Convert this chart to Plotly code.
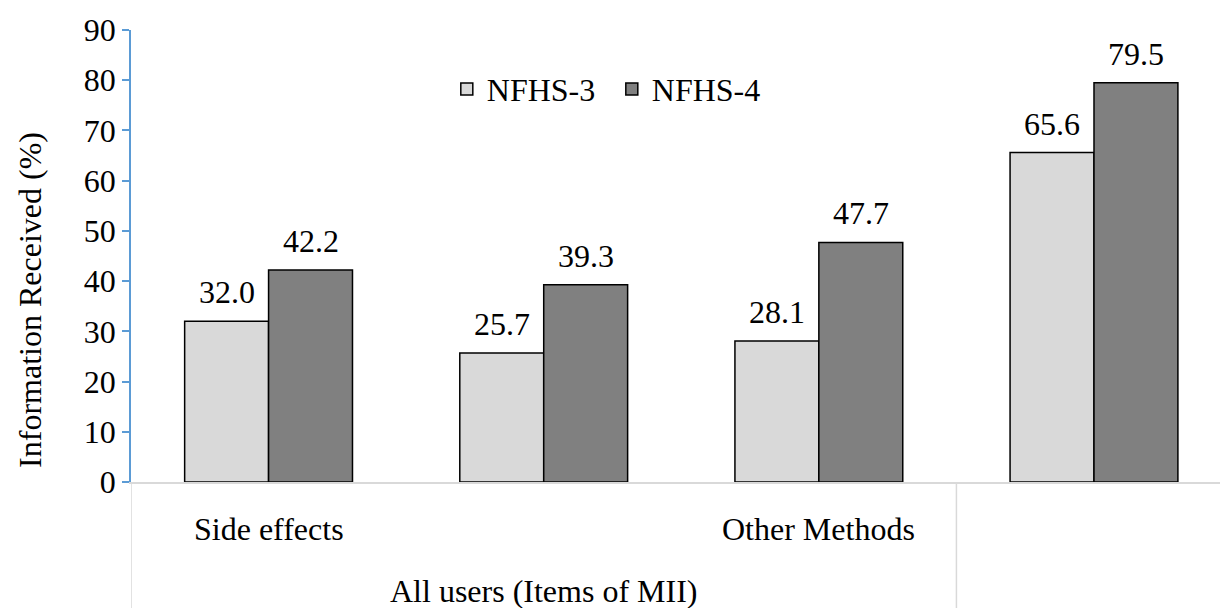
import plotly.graph_objects as go

categories = ["Side effects", "", "Other Methods", ""]
group_label = "All users (Items of MII)"
series_names = ["NFHS-3", "NFHS-4"]
nfhs3 = [32.0, 25.7, 28.1, 65.6]
nfhs4 = [42.2, 39.3, 47.7, 79.5]
y_ticks = [0, 10, 20, 30, 40, 50, 60, 70, 80, 90]
y_title = "Information Received (%)"

FONT = "Liberation Serif, Times New Roman, serif"
FS = 32
BARGAP = 0.39
x = list(range(len(categories)))
bar_w = (1 - BARGAP) / 2

fig = go.Figure()
fig.add_trace(go.Bar(x=x, y=nfhs3, name=series_names[0],
                     marker=dict(color="#D9D9D9", line=dict(color="black", width=1.5))))
fig.add_trace(go.Bar(x=x, y=nfhs4, name=series_names[1],
                     marker=dict(color="#808080", line=dict(color="black", width=1.5))))

annotations = []
for i in x:
    for vals, off in ((nfhs3, -bar_w / 2), (nfhs4, bar_w / 2)):
        annotations.append(dict(x=i + off, y=vals[i], xref="x", yref="y",
                                text=f"{vals[i]:.1f}", showarrow=False,
                                yanchor="bottom", yshift=9,
                                font=dict(size=FS, color="black", family=FONT)))
    if categories[i]:
        annotations.append(dict(x=i, y=-0.103, xref="x", yref="paper",
                                text=categories[i], showarrow=False,
                                yanchor="middle",
                                font=dict(size=FS, color="black", family=FONT)))
annotations.append(dict(x=1, y=-0.242, xref="x", yref="paper",
                        text=group_label, showarrow=False, yanchor="middle",
                        font=dict(size=FS, color="black", family=FONT)))
annotations.append(dict(x=-0.0927, y=0.403, xref="paper", yref="paper",
                        text=y_title, textangle=-90, showarrow=False,
                        xanchor="center", yanchor="middle",
                        font=dict(size=FS, color="black", family=FONT)))

shapes = []
for xd in (-0.5, 2.5):
    shapes.append(dict(type="line", xref="x", yref="paper", x0=xd, x1=xd,
                       y0=0, y1=-0.3, line=dict(color="#D9D9D9", width=1.5)))

fig.update_layout(
    width=1220, height=608,
    margin=dict(l=131, r=0, t=30, b=126),
    paper_bgcolor="white", plot_bgcolor="white",
    barmode="group", bargap=BARGAP, bargroupgap=0,
    font=dict(family=FONT, size=FS, color="black"),
    legend=dict(orientation="h", x=0.29, y=0.869, xanchor="left", yanchor="middle",
                font=dict(size=FS, family=FONT), bgcolor="rgba(0,0,0,0)",
                itemwidth=30, traceorder="normal", entrywidth=120),
    annotations=annotations,
    shapes=shapes,
    xaxis=dict(range=[-0.5, 3.458], showticklabels=False, showgrid=False,
               zeroline=False, showline=True, linecolor="#D9D9D9", linewidth=1.5,
               ticks=""),
    yaxis=dict(range=[0, 90], tickvals=y_ticks, showgrid=False, zeroline=False,
               showline=True, linecolor="#5B9BD5", linewidth=1.5,
               ticks="outside", ticklen=7, tickcolor="#5B9BD5", tickwidth=1.5,
               tickfont=dict(size=FS, family=FONT)),
)

fig.write_html("out.html", config={"displayModeBar": False},
               post_script="document.body.style.margin='0';document.body.style.overflow='hidden';")
